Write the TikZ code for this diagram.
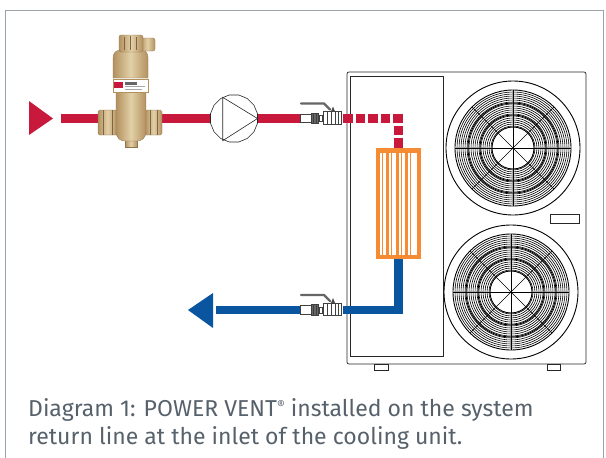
\documentclass[tikz,border=0pt]{standalone}
\usepackage{fontspec}
\setmainfont{Fira Sans}
\usetikzlibrary{shapes.geometric}
\definecolor{pipered}{HTML}{C8183C}
\definecolor{pipeblue}{HTML}{0A55A0}
\definecolor{hxorange}{HTML}{F58B32}
\definecolor{brassD}{HTML}{B3915F}
\definecolor{brassL}{HTML}{E2D0A8}
\definecolor{captiongray}{HTML}{56616B}
\definecolor{framegray}{HTML}{9AA3AB}
\tikzset{
  redpipe/.style={draw=pipered,line width=9pt},
  bluepipe/.style={draw=pipeblue,line width=8.5pt},
  unitline/.style={draw=black!85,line width=0.7pt},
  fanline/.style={draw=black,line width=0.6pt},
  fanbold/.style={draw=black,line width=0.9pt},
  brass/.style={left color=brassD,right color=brassD,middle color=brassL,draw=brassD!80!black,line width=0.3pt},
  valvepart/.style={draw=black!75,line width=0.6pt,fill=white},
  caption/.style={text=captiongray,font=\fontsize{23}{28}\selectfont,anchor=base west,inner sep=0pt},
}
\newcommand\fanunit[1]{%
  \draw[fanbold] (#1) circle (67pt);
  \foreach \r in {22,24,...,57} \draw[fanline] (#1) circle (\r pt);
  \foreach \r in {21,33,45,58} \draw[fanbold] (#1) circle (\r pt);
  \foreach \a in {0,45,...,315} \draw[fanline] (#1) -- ++(\a:58pt);
}
\newcommand\valveunit[2]{% #1 = name, #2 = y
  \coordinate (#1w) at (300,#2);
  \coordinate (#1e) at (343,#2);
  \draw[valvepart] (300,#2-4.5) rectangle (311,#2+4);
  \draw[valvepart,fill=black!60] (311,#2-5.5) rectangle (318,#2+5);
  \draw[black!75,line width=0.5pt] (313.5,#2-5.5) -- (313.5,#2+5) (316,#2-5.5) -- (316,#2+5);
  \draw[valvepart] (319,#2-3) rectangle (322,#2+3);
  \draw[valvepart] (323,#2-7) rectangle (341,#2+5.5);
  \draw[black!75,line width=0.5pt] (327,#2-7) -- (327,#2+5.5) (331,#2-7) -- (331,#2+5.5) (335,#2-7) -- (335,#2+5.5) (338,#2-7) -- (338,#2+5.5);
  \draw[black!60,line width=2.4pt,line cap=round,line join=round] (301,#2-15) -- (324,#2-15) -- (330,#2-9);
  \fill[black!70] (331,#2-7) -- (333,#2-12) -- (335,#2-7) -- cycle;
}
\begin{document}
\begin{tikzpicture}[x=1pt,y=-1pt]
\useasboundingbox (0,0) rectangle (606,458);
% frame
\draw[framegray,line width=0.8pt] (5,460) -- (5,10) -- (603,10) -- (603,460);
% cooling unit
\draw[unitline,rounded corners=2pt] (347,72) rectangle (586,364);
\draw[unitline] (350,76) rectangle (443,356);
\draw[unitline] (374,364) rectangle (388,370);
\draw[unitline] (547,364) rectangle (560,370);
\draw[unitline] (550,214) rectangle (579,223);
\coordinate (fanA) at (513,148);
\coordinate (fanB) at (511,292);
\fanunit{fanA}
\fanunit{fanB}
% arrows
\fill[pipered] (29,101) -- (53,118.5) -- (29,135) -- cycle;
\coordinate (inA) at (53,118.5);
\coordinate (inB) at (61,118.5);
\fill[pipeblue] (213,293) -- (188,310) -- (213,328) -- cycle;
\coordinate (outA) at (216,310);
% pump
\node[regular polygon,regular polygon sides=16,minimum size=48pt,draw=black!85,line width=0.6pt,inner sep=0pt] (pump) at (234,118.5) {};
% exchanger node
\node[rectangle,minimum width=43pt,minimum height=109pt,inner sep=0pt] (hx) at (398.5,203.5) {};
% vent node (position holder)
\node[minimum width=64pt,minimum height=112pt,inner sep=0pt] (vent) at (130,91) {};
% pipes red
\draw[redpipe] (inB) -- (vent.west |- inB);
\draw[redpipe] (vent.east |- inB) -- (pump.west);
\valveunit{va}{118.5}
\draw[redpipe] (pump.east) -- (vaw);
\draw[draw=pipered,line width=9pt,dash pattern=on 9.5pt off 3pt,miter limit=10] (vae) -- (398.5,118.5) -- (hx.north);
% pipes blue
\valveunit{vb}{310}
\draw[bluepipe] (hx.south) -- (398.5,310) -- (vbe);
\draw[bluepipe] (vbw) -- (outA);
% vent (brass)
\begin{scope}
\shade[brass,rounded corners=1.5pt] (98,110) rectangle (117,135);
\shade[brass,rounded corners=1.5pt] (145,110) rectangle (162,135);
\draw[brassD!70!black,line width=0.3pt] (103,110) -- (103,135) (112,110) -- (112,135) (150,110) -- (150,135) (157,110) -- (157,135);
\shade[brass] (125,139) rectangle (137,147);
\shade[brass] (116,92) -- (146,92) -- (146,131) .. controls (146,139) and (141,141) .. (137,141) -- (125,141) .. controls (121,141) and (116,139) .. (116,131) -- cycle;
\shade[brass] (113,78) -- (113,58) .. controls (113,53) and (116,50) .. (121,50) -- (141,50) .. controls (146,50) and (148,53) .. (148,58) -- (148,78) -- cycle;
\shade[brass,rounded corners=2pt] (140,38) rectangle (155,51);
\shade[brass,rounded corners=2pt] (119,35) rectangle (143,52);
\draw[brassD!70!black,line width=0.3pt] (124,37) -- (124,50) (130,36) -- (130,50) (136,37) -- (136,50);
\fill[white] (113,79) rectangle (148,92);
\draw[brassD,line width=0.3pt] (113,79) rectangle (148,92);
\fill[pipered] (114,82) rectangle (123,88);
\fill[black!60] (125,82) rectangle (137,84.5);
\fill[black!35] (125,86) rectangle (145,87);
\fill[black!35] (125,88.5) rectangle (142,89.3);
\end{scope}
% pump triangle
\draw[black!85,line width=0.6pt] (222.7,97.3) -- (222.7,140.7) -- (257.5,118.5) -- cycle;
% exchanger
\begin{scope}[hxorange,line width=1pt]
\draw[line width=1.6pt] (hx.north west) rectangle (hx.south east);
\draw (379,152) rectangle (418,255);
\fill (377,149) rectangle (420,152.5);
\fill (377,254.5) rectangle (420,258);
\foreach \x in {377,386,395.5,405,416.5} \fill (\x,149) rectangle (\x+3.2,258);
\foreach \x in {382.5,391.5,401,410.5} \draw[line width=0.7pt] (\x,152) -- (\x,255);
\end{scope}
% caption
\node[caption] (cap1) at (28,416) {Diagram 1: POWER VENT\raisebox{0.55ex}{\fontsize{12}{12}\selectfont®} installed on the system};
\node[caption] (cap2) at (28,444) {return line at the inlet of the cooling unit.};
\end{tikzpicture}
\end{document}
